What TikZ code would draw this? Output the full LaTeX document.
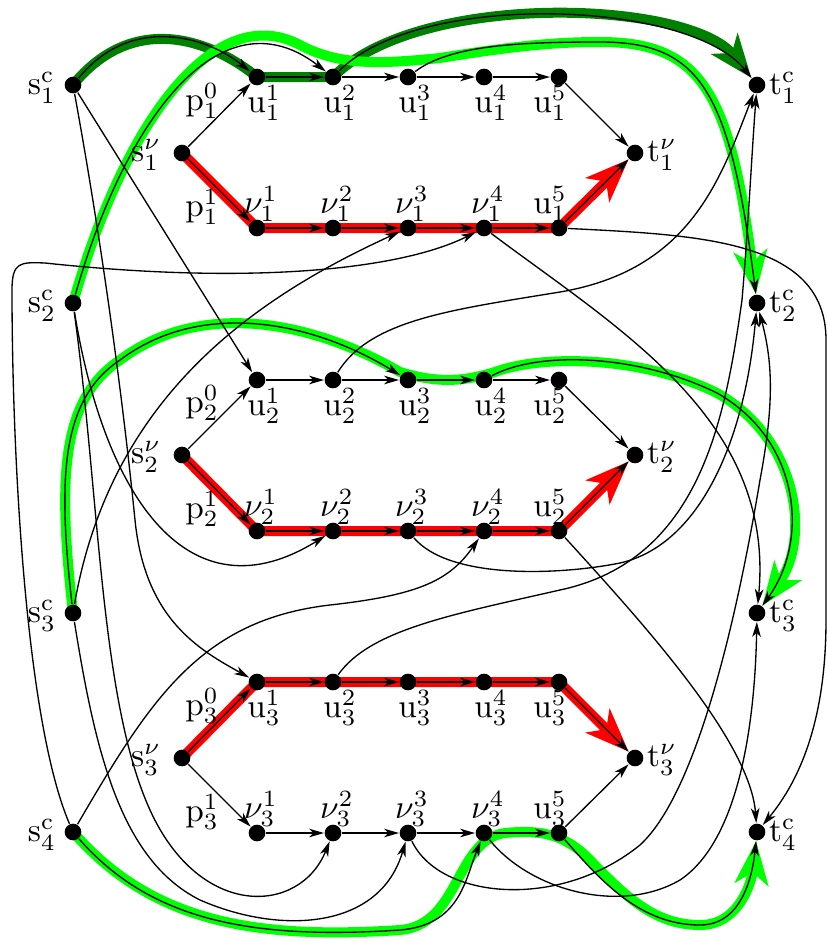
\documentclass[tikz,border=0pt]{standalone}
\usetikzlibrary{arrows.meta,backgrounds}
\tikzset{
  vtx/.style={circle,fill=black,inner sep=0pt,minimum size=5pt},
  lbl/.style={inner sep=0.75pt},
  arr/.style={line width=0.4pt,-{Stealth[length=4.5pt,width=2.6pt,inset=1.3pt]}},
  redband/.style={line width=3pt,red,-{Stealth[length=13pt,width=10pt,inset=3.5pt]}},
  dkband/.style={line width=3pt,green!50!black,-{Stealth[length=13pt,width=10pt,inset=3.5pt]}},
  gband/.style={line width=3pt,green,-{Stealth[length=13pt,width=10pt,inset=3.5pt]}}
}
\begin{document}
\begin{tikzpicture}[x=0.3pt,y=0.3pt,yscale=-1,xscale=1]
\useasboundingbox (0,0) rectangle (828,941);

% clause sources and sinks
\node[vtx] (sc1) at (73,85) {};
\node[vtx] (sc2) at (73,303) {};
\node[vtx] (sc3) at (73,613) {};
\node[vtx] (sc4) at (73,832) {};
\node[vtx] (tc1) at (757,85) {};
\node[vtx] (tc2) at (757,303) {};
\node[vtx] (tc3) at (757,613) {};
\node[vtx] (tc4) at (757,832) {};

% gadget 1
\node[vtx] (sv1) at (182,153) {};
\node[vtx] (u11) at (257,77) {};
\node[vtx] (u21) at (333,77) {};
\node[vtx] (u31) at (408,77) {};
\node[vtx] (u41) at (484,77) {};
\node[vtx] (u51) at (559,77) {};
\node[vtx] (v11) at (257,228) {};
\node[vtx] (v21) at (333,228) {};
\node[vtx] (v31) at (408,228) {};
\node[vtx] (v41) at (484,228) {};
\node[vtx] (w1) at (559,228) {};
\node[vtx] (tv1) at (635,153) {};

% gadget 2
\node[vtx] (sv2) at (182,455) {};
\node[vtx] (u12) at (257,380) {};
\node[vtx] (u22) at (333,380) {};
\node[vtx] (u32) at (408,380) {};
\node[vtx] (u42) at (484,380) {};
\node[vtx] (u52) at (559,380) {};
\node[vtx] (v12) at (257,531) {};
\node[vtx] (v22) at (333,531) {};
\node[vtx] (v32) at (408,531) {};
\node[vtx] (v42) at (484,531) {};
\node[vtx] (w2) at (559,531) {};
\node[vtx] (tv2) at (635,455) {};

% gadget 3
\node[vtx] (sv3) at (182,758) {};
\node[vtx] (u13) at (257,682) {};
\node[vtx] (u23) at (333,682) {};
\node[vtx] (u33) at (408,682) {};
\node[vtx] (u43) at (484,682) {};
\node[vtx] (u53) at (559,682) {};
\node[vtx] (v13) at (257,833) {};
\node[vtx] (v23) at (333,833) {};
\node[vtx] (v33) at (408,833) {};
\node[vtx] (v43) at (484,833) {};
\node[vtx] (w3) at (559,833) {};
\node[vtx] (tv3) at (635,758) {};

% Text Node
\node[lbl] (lsc1) at (42,88) {$\mathrm{s}^{\mathrm{c}}_{1}$};
\node[lbl] (lsc2) at (42,306) {$\mathrm{s}^{\mathrm{c}}_{2}$};
\node[lbl] (lsc3) at (42,616) {$\mathrm{s}^{\mathrm{c}}_{3}$};
\node[lbl] (lsc4) at (42,835) {$\mathrm{s}^{\mathrm{c}}_{4}$};
\node[lbl] (ltc1) at (783,88) {$\mathrm{t}^{\mathrm{c}}_{1}$};
\node[lbl] (ltc2) at (783,306) {$\mathrm{t}^{\mathrm{c}}_{2}$};
\node[lbl] (ltc3) at (783,616) {$\mathrm{t}^{\mathrm{c}}_{3}$};
\node[lbl] (ltc4) at (783,835) {$\mathrm{t}^{\mathrm{c}}_{4}$};
% Text Node
\node[lbl] (lsv1) at (146,155) {$\mathrm{s}^{\nu}_{1}$};
\node[lbl] (ltv1) at (662,155) {$\mathrm{t}^{\nu}_{1}$};
\node[lbl] (lp01) at (202,101) {$\mathrm{p}^{0}_{1}$};
\node[lbl] (lp11) at (202,207) {$\mathrm{p}^{1}_{1}$};
\node[lbl] (lu11) at (264,103) {$\mathrm{u}^{1}_{1}$};
\node[lbl] (lu21) at (340,103) {$\mathrm{u}^{2}_{1}$};
\node[lbl] (lu31) at (415,103) {$\mathrm{u}^{3}_{1}$};
\node[lbl] (lu41) at (491,103) {$\mathrm{u}^{4}_{1}$};
\node[lbl] (lu51) at (550,103) {$\mathrm{u}^{5}_{1}$};
\node[lbl] (lv11) at (261,204) {$\nu^{1}_{1}$};
\node[lbl] (lv21) at (337,204) {$\nu^{2}_{1}$};
\node[lbl] (lv31) at (412,204) {$\nu^{3}_{1}$};
\node[lbl] (lv41) at (488,204) {$\nu^{4}_{1}$};
\node[lbl] (lw1) at (550,204) {$\mathrm{u}^{5}_{1}$};
% Text Node
\node[lbl] (lsv2) at (146,457) {$\mathrm{s}^{\nu}_{2}$};
\node[lbl] (ltv2) at (662,457) {$\mathrm{t}^{\nu}_{2}$};
\node[lbl] (lp02) at (202,403) {$\mathrm{p}^{0}_{2}$};
\node[lbl] (lp12) at (202,509) {$\mathrm{p}^{1}_{2}$};
\node[lbl] (lu12) at (264,406) {$\mathrm{u}^{1}_{2}$};
\node[lbl] (lu22) at (340,406) {$\mathrm{u}^{2}_{2}$};
\node[lbl] (lu32) at (415,406) {$\mathrm{u}^{3}_{2}$};
\node[lbl] (lu42) at (491,406) {$\mathrm{u}^{4}_{2}$};
\node[lbl] (lu52) at (550,406) {$\mathrm{u}^{5}_{2}$};
\node[lbl] (lv12) at (261,507) {$\nu^{1}_{2}$};
\node[lbl] (lv22) at (337,507) {$\nu^{2}_{2}$};
\node[lbl] (lv32) at (412,507) {$\nu^{3}_{2}$};
\node[lbl] (lv42) at (488,507) {$\nu^{4}_{2}$};
\node[lbl] (lw2) at (550,507) {$\mathrm{u}^{5}_{2}$};
% Text Node
\node[lbl] (lsv3) at (146,760) {$\mathrm{s}^{\nu}_{3}$};
\node[lbl] (ltv3) at (662,760) {$\mathrm{t}^{\nu}_{3}$};
\node[lbl] (lp03) at (202,706) {$\mathrm{p}^{0}_{3}$};
\node[lbl] (lp13) at (202,812) {$\mathrm{p}^{1}_{3}$};
\node[lbl] (lu13) at (264,708) {$\mathrm{u}^{1}_{3}$};
\node[lbl] (lu23) at (340,708) {$\mathrm{u}^{2}_{3}$};
\node[lbl] (lu33) at (415,708) {$\mathrm{u}^{3}_{3}$};
\node[lbl] (lu43) at (491,708) {$\mathrm{u}^{4}_{3}$};
\node[lbl] (lu53) at (550,708) {$\mathrm{u}^{5}_{3}$};
\node[lbl] (lv13) at (261,809) {$\nu^{1}_{3}$};
\node[lbl] (lv23) at (337,809) {$\nu^{2}_{3}$};
\node[lbl] (lv33) at (412,809) {$\nu^{3}_{3}$};
\node[lbl] (lv43) at (488,809) {$\nu^{4}_{3}$};
\node[lbl] (lw3) at (550,809) {$\mathrm{u}^{5}_{3}$};

% highlighted paths
\begin{scope}[on background layer]
\draw[redband] (sv1.center) -- (v11.center) -- (v21.center) -- (v31.center) -- (v41.center) -- (w1.center) -- (tv1);
\draw[redband] (sv2.center) -- (v12.center) -- (v22.center) -- (v32.center) -- (v42.center) -- (w2.center) -- (tv2);
\draw[redband] (sv3.center) -- (u13.center) -- (u23.center) -- (u33.center) -- (u43.center) -- (u53.center) -- (tv3);
\draw[dkband] (sc1.center) .. controls (130,15) and (205,35) .. (u11.center) -- (u21.center) .. controls (420,-10) and (690,0) .. (tc1);
\draw[gband] (sc2.center) .. controls (125,120) and (215,0) .. (300,45) .. controls (340,66) and (380,64) .. (440,58) .. controls (520,45) and (560,42) .. (600,42) .. controls (700,42) and (730,90) .. (tc2);
\draw[gband] (sc3.center) .. controls (58,480) and (60,400) .. (120,360) .. controls (200,300) and (310,320) .. (400,372) .. controls (440,384) and (465,381) .. (495,372) .. controls (540,355) and (640,355) .. (717,393) .. controls (800,440) and (810,540) .. (tc3);
\draw[gband] (sc4.center) .. controls (150,920) and (250,940) .. (400,930) .. controls (460,925) and (455,840) .. (505,833) .. controls (535,830) and (560,832) .. (585,855) .. controls (620,890) and (650,925) .. (700,925) .. controls (740,925) and (752,880) .. (tc4);
\end{scope}

% gadget 1 edges
\draw[arr] (sv1) -- (u11);
\draw[arr] (sv1) -- (v11);
\draw[arr] (u11) -- (u21);
\draw[arr] (u21) -- (u31);
\draw[arr] (u31) -- (u41);
\draw[arr] (u41) -- (u51);
\draw[arr] (u51) -- (tv1);
\draw[arr] (v11) -- (v21);
\draw[arr] (v21) -- (v31);
\draw[arr] (v31) -- (v41);
\draw[arr] (v41) -- (w1);
\draw[arr] (w1) -- (tv1);
% gadget 2 edges
\draw[arr] (sv2) -- (u12);
\draw[arr] (sv2) -- (v12);
\draw[arr] (u12) -- (u22);
\draw[arr] (u22) -- (u32);
\draw[arr] (u32) -- (u42);
\draw[arr] (u42) -- (u52);
\draw[arr] (u52) -- (tv2);
\draw[arr] (v12) -- (v22);
\draw[arr] (v22) -- (v32);
\draw[arr] (v32) -- (v42);
\draw[arr] (v42) -- (w2);
\draw[arr] (w2) -- (tv2);
% gadget 3 edges
\draw[arr] (sv3) -- (u13);
\draw[arr] (sv3) -- (v13);
\draw[arr] (u13) -- (u23);
\draw[arr] (u23) -- (u33);
\draw[arr] (u33) -- (u43);
\draw[arr] (u43) -- (u53);
\draw[arr] (u53) -- (tv3);
\draw[arr] (v13) -- (v23);
\draw[arr] (v23) -- (v33);
\draw[arr] (v33) -- (v43);
\draw[arr] (v43) -- (w3);
\draw[arr] (w3) -- (tv3);

% clause edges
\draw[arr] (sc1) .. controls (130,15) and (205,35) .. (u11);
\draw[arr] (sc1) -- (u12);
\draw[arr] (sc1) .. controls (105,260) and (125,420) .. (135,520) .. controls (145,620) and (200,650) .. (u13);
\draw[arr] (sc2) .. controls (125,120) and (220,-10) .. (u21);
\draw[arr] (sc2) .. controls (105,500) and (190,620) .. (v22);
\draw[arr] (sc2) .. controls (100,500) and (100,700) .. (150,810) .. controls (200,920) and (300,915) .. (v23);
\draw[arr] (sc3) .. controls (110,400) and (250,300) .. (v31);
\draw[arr] (sc3) .. controls (58,480) and (60,400) .. (120,360) .. controls (200,300) and (310,320) .. (u32);
\draw[arr] (sc3) .. controls (95,750) and (120,860) .. (200,900) .. controls (280,935) and (380,930) .. (v33);
\draw[arr] (sc4) .. controls (25,720) and (12,450) .. (12,290) .. controls (12,262) and (20,262) .. (45,263) .. controls (250,285) and (400,270) .. (v41);
\draw[arr] (sc4) .. controls (150,700) and (200,620) .. (330,605) .. controls (420,595) and (450,580) .. (v42);
\draw[arr] (sc4) .. controls (150,920) and (250,940) .. (400,930) .. controls (460,925) and (465,880) .. (v43);
% into the sinks
\draw[arr] (u21) .. controls (420,-10) and (690,0) .. (tc1);
\draw[arr] (u22) .. controls (370,320) and (450,310) .. (560,292) .. controls (690,270) and (720,180) .. (tc1);
\draw[arr] (u23) .. controls (370,630) and (450,615) .. (560,590) .. controls (700,560) and (725,420) .. (742,300) .. controls (748,230) and (752,150) .. (tc1);
\draw[arr] (u31) .. controls (450,45) and (520,42) .. (600,42) .. controls (700,42) and (730,90) .. (tc2);
\draw[arr] (v32) .. controls (450,580) and (560,575) .. (620,563) .. controls (700,545) and (745,440) .. (tc2);
\draw[arr] (v33) .. controls (440,900) and (560,910) .. (640,845) .. controls (700,790) and (740,600) .. (760,480) .. controls (775,400) and (772,360) .. (tc2);
\draw[arr] (u42) .. controls (540,350) and (640,355) .. (717,393) .. controls (800,440) and (810,540) .. (tc3);
\draw[arr] (v41) .. controls (620,330) and (775,420) .. (tc3);
\draw[arr] (v43) .. controls (530,890) and (620,915) .. (680,880) .. controls (740,840) and (755,720) .. (tc3);
\draw[arr] (w1) .. controls (700,235) and (826,240) .. (826,340) -- (826,620) .. controls (826,720) and (800,780) .. (tc4);
\draw[arr] (w2) .. controls (640,620) and (750,740) .. (tc4);
\draw[arr] (w3) .. controls (600,880) and (640,925) .. (700,925) .. controls (740,925) and (752,880) .. (tc4);
\end{tikzpicture}
\end{document}
